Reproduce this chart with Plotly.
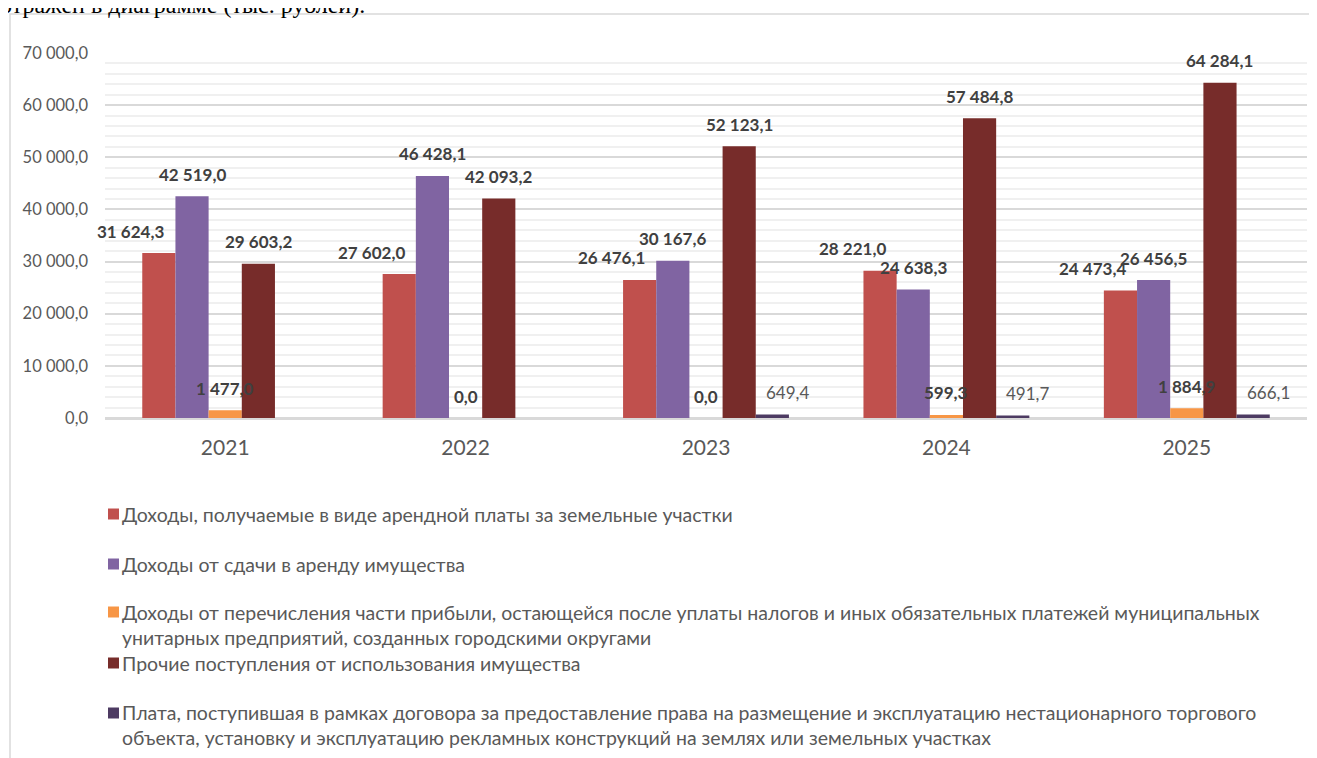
import plotly.graph_objects as go

years = ["2021", "2022", "2023", "2024", "2025"]

series_names = [
    "Доходы, получаемые в виде арендной платы за земельные участки",
    "Доходы от сдачи в аренду имущества",
    "Доходы от перечисления части прибыли, остающейся после уплаты налогов и иных обязательных платежей муниципальных<br>унитарных предприятий, созданных городскими округами",
    "Прочие поступления от использования имущества",
    "Плата, поступившая в рамках договора за предоставление права на размещение и эксплуатацию нестационарного торгового<br>объекта, установку и эксплуатацию рекламных конструкций на землях или земельных участках",
]

land_rent = [31624.3, 27602.0, 26476.1, 28221.0, 24473.4]
property_rent = [42519.0, 46428.1, 30167.6, 24638.3, 26456.5]
profit_share = [1477.0, 0.0, 0.0, 599.3, 1884.9]
other_income = [29603.2, 42093.2, 52123.1, 57484.8, 64284.1]
trade_fee = [None, None, 649.4, 491.7, 666.1]

series_values = [land_rent, property_rent, profit_share, other_income, trade_fee]
colors = ["#C0504D", "#8064A2", "#F79646", "#772C2A", "#4D3B62"]
label_bold = [True, True, True, True, False]
label_nudge = [-28, 0, 0, 0, 15]

y_ticks = [0, 10000, 20000, 30000, 40000, 50000, 60000, 70000]

FONT = "Lato"
OFF = 8  # page body margin
W, H = 1309, 750
L, R, T, B = 97, 10, 45, 340
PW, PH = W - L - R, H - T - B
BARGAP = 0.31
BAR_PX = PW / len(years) * (1 - BARGAP) / len(series_values)


def px_x(p):
    return (p - OFF - L) / PW


def px_y(p):
    return (H - B - (p - OFF)) / PH


def fmt(v):
    return f"{v:,.1f}".replace(",", " ").replace(".", ",")


fig = go.Figure()
for name, vals, col in zip(series_names, series_values, colors):
    fig.add_trace(go.Bar(
        x=years, y=vals, name=name, marker=dict(color=col, line=dict(width=0)),
        showlegend=False, hoverinfo="x+y",
    ))

annotations = [
    dict(text="отражен в диаграмме (тыс. рублей).", xref="paper", yref="paper",
         x=px_x(-2), y=px_y(5), xanchor="left", yanchor="middle", showarrow=False,
         font=dict(family="Liberation Serif", size=24, color="#000000")),
]

# data labels (drawn above all bars); x given as category index
for i, (vals, bold, nudge) in enumerate(zip(series_values, label_bold, label_nudge)):
    for j, v in enumerate(vals):
        if v is None:
            continue
        txt = fmt(v)
        annotations.append(dict(
            x=j, y=v, xref="x", yref="y", showarrow=False,
            text=f"<b>{txt}</b>" if bold else txt,
            xshift=(i - 2) * BAR_PX + nudge, yshift=22, yanchor="middle",
            font=dict(family=FONT, size=17, color="#404040" if bold else "#595959"),
        ))

shapes = [
    dict(type="rect", xref="paper", yref="paper", x0=px_x(10), x1=px_x(1340),
         y0=px_y(780), y1=px_y(14), line=dict(color="#D9D9D9", width=1.5),
         fillcolor="rgba(0,0,0,0)", layer="below"),
]

legend_centers = [514, 564, 624.5, 663, 724.5]
marker_centers = [514, 564, 612, 663, 713]
for name, col, cy, my in zip(series_names, colors, legend_centers, marker_centers):
    annotations.append(dict(
        text=name, xref="paper", yref="paper", x=px_x(120), y=px_y(cy),
        xanchor="left", yanchor="middle", align="left", showarrow=False,
        font=dict(family=FONT, size=19.5, color="#595959"),
    ))
    shapes.append(dict(
        type="rect", xref="paper", yref="paper", x0=px_x(108), x1=px_x(119),
        y0=px_y(my + 5.5), y1=px_y(my - 5.5), fillcolor=col, line=dict(width=0),
    ))

fig.update_layout(
    width=W, height=H, autosize=False,
    margin=dict(l=L, r=R, t=T, b=B),
    paper_bgcolor="white", plot_bgcolor="white",
    separators=", ",
    barmode="group", bargap=BARGAP, bargroupgap=0,
    font=dict(family=FONT, color="#595959"),
    annotations=annotations, shapes=shapes,
    xaxis=dict(type="category", categoryorder="array", categoryarray=years,
               range=[-0.5, len(years) - 0.5],
               showline=True, linecolor="#D9D9D9", linewidth=1.5,
               tickfont=dict(family=FONT, size=21, color="#595959"),
               ticks="", ticklabelstandoff=10, showgrid=False),
    yaxis=dict(range=[0, 70000], tickvals=y_ticks, tickformat=",.1f",
               tickfont=dict(family=FONT, size=16.5, color="#595959"),
               showgrid=True, gridcolor="#D9D9D9", gridwidth=1.5,
               zeroline=True, zerolinecolor="#D9D9D9", zerolinewidth=1.5,
               ticks="", ticklabelstandoff=16,
               minor=dict(dtick=2000, showgrid=True, gridcolor="#F0F0F0", gridwidth=1.5)),
)

fig.write_html("out.html")
